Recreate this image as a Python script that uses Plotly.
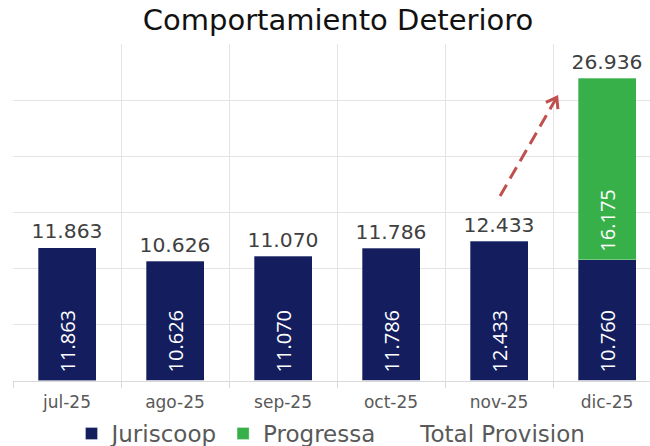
import math
import plotly.graph_objects as go

# Monthly impairment provision (thousands)
months = ["jul-25", "ago-25", "sep-25", "oct-25", "nov-25", "dic-25"]
juriscoop = [11863, 10626, 11070, 11786, 12433, 10760]
progressa = [None, None, None, None, None, 16175]
total_provision = [11863, 10626, 11070, 11786, 12433, 26936]

NAVY = "#141E5E"
GREEN = "#38B04A"
LABEL_GREY = "#404040"
AXIS_GREY = "#595959"
GRID = "#E3E3E3"
ARROW_RED = "#C0504D"

W, H = 650, 446
M_L, M_R, M_T, M_B = 13, 0, 44, 63
X_RANGE = [-0.5, 5.398]
Y_RANGE = [0, 30000]

NBSP = "\u00a0"
inside_font = dict(family="Open Sans", size=20, color="white")

fig = go.Figure()

fig.add_trace(go.Bar(
    name="Juriscoop", x=months, y=juriscoop,
    marker=dict(color=NAVY, line=dict(color="rgba(255,255,255,0.6)", width=0.5)),
    texttemplate=NBSP + "%{y:,.0f}", textposition="inside", insidetextanchor="start",
    textangle=-90, textfont=inside_font,
))
fig.add_trace(go.Bar(
    name="Progressa", x=months, y=progressa,
    marker=dict(color=GREEN, line=dict(color="rgba(255,255,255,0.6)", width=0.5)),
    texttemplate=NBSP + "%{y:,.0f}", textposition="inside", insidetextanchor="start",
    textangle=-90, textfont=inside_font,
))
fig.add_trace(go.Scatter(
    name="Total Provision", x=months, y=total_provision,
    mode="lines+markers+text",
    line=dict(color="rgba(0,0,0,0)"),
    marker=dict(size=5, color="rgba(0,0,0,0)"),
    texttemplate="%{y:,.0f}", textposition="top center",
    textfont=dict(family="DejaVu Sans", size=20.3, color=LABEL_GREY),
    cliponaxis=False,
))

# Dashed trend arrow from November towards the December total
plot_w = W - M_L - M_R
plot_h = H - M_T - M_B
px_x = plot_w / (X_RANGE[1] - X_RANGE[0])
px_y = plot_h / (Y_RANGE[1] - Y_RANGE[0])
tail = (4.01, 16460)
head = (4.535, 25250)
fig.add_shape(type="line", x0=tail[0], y0=tail[1], x1=head[0], y1=head[1],
              xref="x", yref="y", line=dict(color=ARROW_RED, width=3, dash="13px,7px"))

dxp = (head[0] - tail[0]) * px_x
dyp = (head[1] - tail[1]) * px_y
length = (dxp ** 2 + dyp ** 2) ** 0.5
ux, uy = dxp / length, dyp / length
arm = 12
pts = []
for ang in (math.radians(35), -math.radians(35)):
    bx = -(ux * math.cos(ang) - uy * math.sin(ang))
    by = -(ux * math.sin(ang) + uy * math.cos(ang))
    pts.append((head[0] + bx * arm / px_x, head[1] + by * arm / px_y))
path = f"M {pts[0][0]},{pts[0][1]} L {head[0]},{head[1]} L {pts[1][0]},{pts[1][1]}"
fig.add_shape(type="path", path=path, xref="x", yref="y",
              line=dict(color=ARROW_RED, width=3))

fig.update_layout(
    width=W, height=H,
    margin=dict(l=M_L, r=M_R, t=M_T, b=M_B),
    barmode="stack", bargap=0.463,
    separators=",.",
    plot_bgcolor="white", paper_bgcolor="white",
    font=dict(family="DejaVu Sans", color=AXIS_GREY),
    title=dict(text="Comportamiento Deterioro", x=0.52, xanchor="center",
               y=0.955, yanchor="middle", yref="container",
               font=dict(family="DejaVu Sans", size=29, color="#111111")),
    legend=dict(orientation="h", x=0.51, xanchor="center", xref="container",
                y=0.028, yanchor="middle", yref="container",
                font=dict(family="DejaVu Sans", size=23, color=AXIS_GREY),
                itemwidth=30, traceorder="normal"),
    showlegend=True,
)
fig.update_xaxes(
    range=X_RANGE, tickson="boundaries", showgrid=True, gridcolor=GRID, gridwidth=1,
    showline=True, linecolor="#D9D9D9", ticks="outside", ticklen=6, tickcolor="#D9D9D9",
    ticklabelstandoff=6,
    tickfont=dict(family="DejaVu Sans", size=17, color=AXIS_GREY),
)
fig.update_yaxes(
    range=Y_RANGE, dtick=5000, showgrid=True, gridcolor=GRID, gridwidth=1,
    showticklabels=False, zeroline=False,
)

fig.write_html("out.html")
